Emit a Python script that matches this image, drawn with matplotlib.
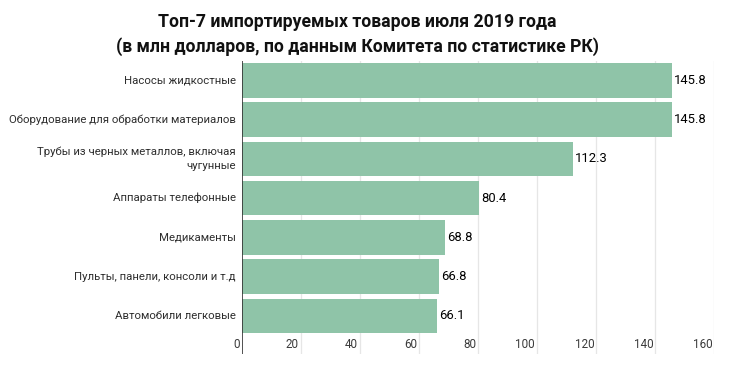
import matplotlib
matplotlib.use("Agg")
import matplotlib.pyplot as plt

categories = [
    "Насосы жидкостные",
    "Оборудование для обработки материалов",
    "Трубы из черных металлов, включая\nчугунные",
    "Аппараты телефонные",
    "Медикаменты",
    "Пульты, панели, консоли и т.д",
    "Автомобили легковые",
]
values = [145.8, 145.8, 112.3, 80.4, 68.8, 66.8, 66.1]
value_labels = ["145.8", "145.8", "112.3", "80.4", "68.8", "66.8", "66.1"]
xticks = [0, 20, 40, 60, 80, 100, 120, 140, 160]
title_lines = ["Топ-7 импортируемых товаров июля 2019 года",
               "(в млн долларов, по данным Комитета по статистике РК)"]

plt.rcParams['font.family'] = ['Roboto', 'DejaVu Sans']

W, H = 730, 366
fig = plt.figure(figsize=(W / 100, H / 100), dpi=100)

left_px, right_px = 242, 714.3
top_px, bottom_px = 60.9, 354
ax = fig.add_axes([left_px / W, 1 - bottom_px / H, (right_px - left_px) / W, (bottom_px - top_px) / H])

y = list(range(len(categories)))
ax.barh(y, values, height=0.88, color='#8fc4a8', zorder=2)
ax.set_xlim(0, 160)
ax.set_ylim(6.97, -0.5)

for xv in xticks[1:]:
    ax.axvline(xv, color='#e6e6e6', lw=0.9, zorder=1)
ax.axvline(0, color='#333333', lw=1.2, zorder=3)

for s in ax.spines.values():
    s.set_visible(False)
ax.set_xticks([])
ax.set_yticks([])

for xv in xticks:
    ax.text(xv - 0.7, 6.74, str(xv), ha='right', va='center', fontsize=8.4, color='#3a3a3a')

for yi, cat in zip(y, categories):
    ax.text(-2.1, yi, cat, ha='right', va='center', fontsize=8.2, color='#2e2e2e',
            multialignment='right', linespacing=1.5)

for yi, v, lab in zip(y, values, value_labels):
    ax.text(v + 0.6, yi, lab, ha='left', va='center', fontsize=9.4, color='#000000')

fig.text(357 / W, 1 - 22 / H, title_lines[0], ha='center', va='center', fontsize=12.7, fontweight='bold', color='#111111')
fig.text(357 / W, 1 - 47 / H, title_lines[1], ha='center', va='center', fontsize=12.7, fontweight='bold', color='#111111')

fig.savefig("out.png", dpi=100)
